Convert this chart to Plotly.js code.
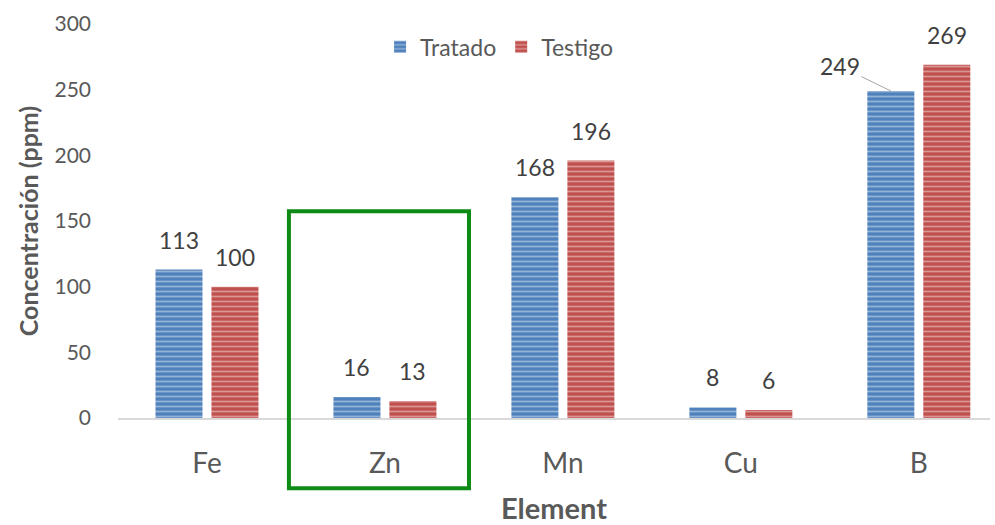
<!DOCTYPE html>
<html><head><meta charset="utf-8">
<script src="https://cdn.plot.ly/plotly-3.0.1.min.js"></script>
<style>html,body{margin:0;padding:0;background:#fff}#chart{width:995px;height:525px}</style>
</head><body><div id="chart"></div>
<script>
const categories = ['Fe', 'Zn', 'Mn', 'Cu', 'B'];
const tratado = [113, 16, 168, 8, 249];
const testigo = [100, 13, 196, 6, 269];
const seriesNames = ['Tratado', 'Testigo'];

const font = 'Lato, "Open Sans", sans-serif';
const txtColor = '#404040';
const axColor = '#595959';

function barTrace(name, vals, color, stripe) {
  return {
    type: 'bar', name: name, x: categories, y: vals,
    marker: {color: color, line: {width: 0},
      pattern: {shape: '-', fgcolor: stripe, bgcolor: color, size: 5, solidity: 0.35, fillmode: 'overlay'}},
    hoverinfo: 'x+y'
  };
}
const data = [
  barTrace(seriesNames[0], tratado, '#4F81BD', '#DCE6F2'),
  barTrace(seriesNames[1], testigo, '#C0504D', '#F2DCDB')
];

const annotations = [];
const off = 28;
categories.forEach((c, i) => {
  [[tratado, -off], [testigo, off]].forEach(([arr, xs], k) => {
    if (c === 'B' && k === 0) {
      annotations.push({x: c, y: arr[i], xshift: xs, text: String(arr[i]), showarrow: true,
        arrowhead: 0, arrowwidth: 1, arrowcolor: '#A6A6A6', ax: -51, ay: -25, standoff: 0,
        font: {family: font, size: 23, color: txtColor}});
    } else {
      annotations.push({x: c, y: arr[i], xshift: xs, yshift: 14, yanchor: 'bottom', text: String(arr[i]),
        showarrow: false, font: {family: font, size: 23, color: txtColor}});
    }
  });
});

const layout = {
  width: 995, height: 525,
  margin: {l: 118, r: 5, t: 24, b: 107},
  paper_bgcolor: '#fff', plot_bgcolor: '#fff',
  barmode: 'group', bargap: 0.371, bargroupgap: 0.16,
  font: {family: font, color: axColor},
  showlegend: true,
  legend: {orientation: 'h', x: 0.437, xanchor: 'center', y: 0.942, yanchor: 'middle',
    font: {family: font, size: 23, color: axColor}, traceorder: 'normal'},
  xaxis: {
    type: 'category', range: [-0.5, 4.4], showline: true, linecolor: '#D9D9D9', linewidth: 1.5,
    ticks: '', showgrid: false, zeroline: false,
    tickfont: {family: font, size: 28, color: axColor}, ticklabelstandoff: 20,
    title: {text: '<b>Element</b>', font: {family: font, size: 29, color: axColor}, standoff: 22}
  },
  yaxis: {
    range: [0, 300], dtick: 50, showgrid: false, zeroline: false, showline: false, ticks: '',
    tickfont: {family: font, size: 21, color: axColor}, ticklabelstandoff: 26,
    title: {text: '<b>Concentración (ppm)</b>', font: {family: font, size: 25, color: axColor}, standoff: 8}
  },
  annotations: annotations,
  shapes: [{type: 'rect', xref: 'paper', yref: 'paper', x0: 0.196, x1: 0.4025, y0: -0.178, y1: 0.525,
    line: {color: '#0E8A16', width: 4}, fillcolor: 'rgba(0,0,0,0)'}]
};
Plotly.newPlot('chart', data, layout, {displayModeBar: false, staticPlot: true});
</script></body></html>
